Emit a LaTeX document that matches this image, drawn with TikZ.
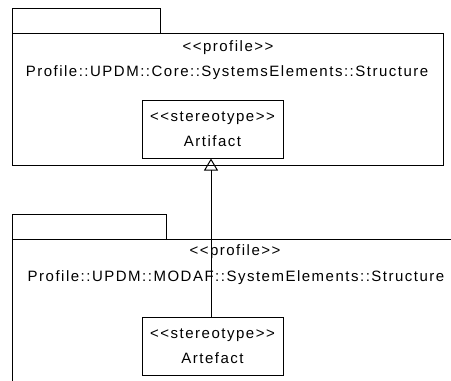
\documentclass[tikz,border=0pt]{standalone}
\usepackage{fontspec}
\setmainfont{Liberation Sans}[LetterSpace=10]
\usetikzlibrary{arrows.meta}
\begin{document}
\begin{tikzpicture}[x=1pt,y=-1pt,
  pkg/.style={draw,line width=1pt,inner sep=0pt,anchor=north west},
  txt/.style={font=\fontsize{15}{25}\selectfont,inner sep=0pt},
  ster/.style={draw,line width=1pt,minimum width=141pt,minimum height=58pt,align=center,inner sep=0pt,font=\fontsize{15}{25}\selectfont}]
\clip (0,0) rectangle (451,381);
% upper package
\node[pkg,minimum width=148pt,minimum height=25pt] (coretab) at (12,8) {};
\node[pkg,minimum width=431pt,minimum height=132pt] (corepkg) at (12,33) {};
\node[txt] (coreprof) at (228,48) {<{}<profile>{}>};
\node[txt] (corename) at (227,73) {Profile::UPDM::Core::SystemsElements::Structure};
\node[ster] (artifact) at (212.5,129) {<{}<stereotype>{}>\\Artifact};
% lower package
\node[pkg,minimum width=154pt,minimum height=25pt] (modtab) at (12,214) {};
\node[pkg,minimum width=460pt,minimum height=200pt] (modpkg) at (12,239) {};
\node[txt] (modprof) at (235,252) {<{}<profile>{}>};
\node[txt] (modname) at (236,278) {Profile::UPDM::MODAF::SystemElements::Structure};
\node[ster] (artefact) at (212.5,346) {<{}<stereotype>{}>\\Artefact};
\draw [line width=1pt, -{Triangle[open,length=12pt,width=14pt]}] (artefact.north -| 211,0) -- (artifact.south -| 211,0);
\end{tikzpicture}
\end{document}
